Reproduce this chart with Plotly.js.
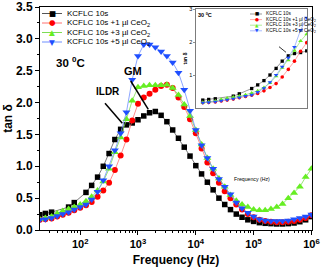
<!DOCTYPE html>
<html>
<head>
<meta charset="utf-8">
<script src="https://cdn.plot.ly/plotly-3.0.1.min.js"></script>
<style>html,body{margin:0;padding:0;background:#fff;}#chart{width:321px;height:273px;}</style>
</head>
<body>
<div id="chart"></div>
<script>
// ---- data ----
const frequencyHz = [20,25,32,40,50,63,79,100,126,158,200,251,316,398,501,631,794,1000,1259,1585,1995,2512,3162,3981,5012,6310,7943,10000,12589,15849,19953,25119,31623,39811,50119,63096,79433,100000,125893,158489,199526,251189,316228,398107,501187,630957,794328,1000000];
const seriesNames = ["KCFLC 10s","KCFLC 10s +1 µl CeO<sub>2</sub>","KCFLC 10s +3 µl CeO<sub>2</sub>","KCFLC 10s +5 µl CeO<sub>2</sub>"];
const tanDeltaPure = [0.24,0.26,0.28,null,null,0.36,0.43,null,0.59,0.70,0.83,1.00,1.20,1.42,1.58,1.65,1.68,1.73,1.79,1.84,1.86,1.80,1.70,1.57,1.44,1.30,1.16,1.01,0.88,0.75,0.63,0.50,0.40,0.32,0.25,0.20,0.16,0.135,0.115,0.105,0.10,0.095,0.095,0.10,0.11,0.13,0.16,0.21];
const tanDelta1ul = [0.16,0.17,0.18,0.21,0.24,0.27,0.31,0.35,0.39,0.44,0.52,0.62,0.74,0.94,1.17,1.42,1.72,1.98,2.08,2.14,2.20,2.26,2.28,2.23,2.08,1.93,1.74,1.52,1.28,1.06,0.89,0.74,0.61,0.50,0.40,0.32,0.25,0.20,0.16,0.14,0.13,0.12,0.12,0.13,0.14,0.16,0.19,0.23];
const tanDelta3ul = [0.17,0.19,0.21,0.26,0.30,0.33,0.36,0.40,0.45,0.52,0.62,0.76,0.96,1.22,1.45,1.74,2.03,2.24,2.26,2.27,2.27,2.27,2.28,2.23,2.12,1.97,1.79,1.57,1.34,1.13,0.96,0.81,0.68,0.55,0.46,0.40,0.36,0.32,0.31,0.31,0.33,0.36,0.41,0.50,0.58,0.68,0.83,0.96];
const tanDelta5ul = [0.16,0.17,0.19,0.22,0.25,0.28,0.32,0.36,0.40,0.48,0.60,0.78,1.00,1.25,1.52,1.85,2.36,2.73,2.91,2.91,2.87,2.80,2.73,2.63,2.47,2.20,1.87,1.57,1.33,1.13,0.96,0.80,0.68,0.56,0.43,0.34,0.27,0.21,0.17,0.15,0.14,0.14,0.14,0.15,0.17,0.19,0.21,0.245];
const xTickExponents = [2,3,4,5,6];

// ---- styles ----
const FONT = "Arial, 'Liberation Sans', sans-serif";
const styles = [
  {symbol:'square', mcolor:'#000000', lcolor:'#555555', size:5.5, glyph:'■'},
  {symbol:'circle', mcolor:'#ff0000', lcolor:'#ff7070', size:6, glyph:'●'},
  {symbol:'triangle-up', mcolor:'#66ee22', lcolor:'#7ddd55', size:7, glyph:'▲'},
  {symbol:'triangle-down', mcolor:'#1f4fff', lcolor:'#6f8fff', size:7, glyph:'▼'}
];
const allSeries = [tanDeltaPure, tanDelta1ul, tanDelta3ul, tanDelta5ul];

// pixel helpers for the main plot area
const L=40, R=312, T=7, B=230;
const px = x => (x-L)/(R-L);
const py = y => (B-y)/(B-T);

const traces = [];
allSeries.forEach((ys,i)=>{
  const s = styles[i];
  traces.push({x:frequencyHz, y:ys, name:seriesNames[i], type:'scatter', mode:'lines+markers',
    connectgaps:true, showlegend:false, xaxis:'x', yaxis:'y',
    line:{color:s.lcolor, width:0.8},
    marker:{symbol:s.symbol, color:s.mcolor, size:s.size, line:{width:0}}});
});
allSeries.forEach((ys,i)=>{
  const s = styles[i];
  traces.push({x:frequencyHz, y:ys, name:seriesNames[i], type:'scatter', mode:'lines+markers',
    connectgaps:true, showlegend:false, xaxis:'x2', yaxis:'y2',
    line:{color:s.lcolor, width:0.6},
    marker:{symbol:s.symbol, color:s.mcolor, size:s.size*0.6, line:{width:0}}});
});

const shapes = [];
const annotations = [];
function txt(x,y,text,size,bold,extra){
  return Object.assign({xref:'paper',yref:'paper',x:px(x),y:py(y),text:text,showarrow:false,
    font:{family:FONT,size:size,color:'#000',weight:bold?'bold':'normal'},xanchor:'center',yanchor:'middle'},extra||{});
}
function seg(x0,y0,x1,y1,w,c){
  shapes.push({type:'line',xref:'paper',yref:'paper',x0:px(x0),y0:py(y0),x1:px(x1),y1:py(y1),line:{color:c||'#000',width:w}});
}

// main legend (custom, compact rows)
const rowsMain = [13.5,23,32.5,42];
seriesNames.forEach((n,i)=>{
  const s = styles[i], yy = rowsMain[i];
  seg(42,yy,62,yy,1,s.lcolor);
  annotations.push(txt(52,yy,s.glyph,7,false,{font:{family:"DejaVu Sans",size:7.5,color:s.mcolor}}));
  annotations.push(txt(65,yy,n,8,false,{xanchor:'left'}));
});
annotations.push(txt(70,62,'30 <sup>0</sup>C',11.5,true));
annotations.push(txt(133,71,'GM',11,true));
annotations.push(txt(107.5,91,'ILDR',10,true));
seg(130.7,81,148.3,109.3,1.5);
seg(105,103.3,122.3,123.3,1.5);

// inset legend
const rowsInset = [14,19.6,25.2,30.8];
seriesNames.forEach((n,i)=>{
  const s = styles[i], yy = rowsInset[i];
  seg(250,yy,262,yy,0.6,s.lcolor);
  annotations.push(txt(256.5,yy,s.glyph,4.5,false,{font:{family:"DejaVu Sans",size:4.5,color:s.mcolor}}));
  annotations.push(txt(263.5,yy,n,4.8,false,{xanchor:'left'}));
});
annotations.push(txt(204.7,15.3,'30 <sup>0</sup>C',5.5,true));
annotations.push(txt(251.5,179,'Frequency (Hz)',5.2,false));
seg(279,46.7,286,52.3,0.8);

const layout = {
  width:321, height:273,
  margin:{l:40, r:9, t:7, b:43, pad:0},
  paper_bgcolor:'#fff', plot_bgcolor:'#fff',
  showlegend:false,
  font:{family:FONT, color:'#000'},
  xaxis:{type:'log', range:[1.305,6.01], domain:[0,1], anchor:'y',
    tickvals:xTickExponents.map(e=>Math.pow(10,e)),
    ticktext:xTickExponents.map(e=>'10<sup>'+e+'</sup>'),
    ticks:'outside', ticklen:4, tickwidth:1, tickcolor:'#000',
    minor:{ticks:'outside', ticklen:2, tickcolor:'#000', dtick:'D1', showgrid:false},
    showline:true, linecolor:'#000', linewidth:1, mirror:true, showgrid:false, zeroline:false,
    tickfont:{family:FONT, size:11, weight:'bold', color:'#000'},
    title:{text:'Frequency (Hz)', font:{family:FONT, size:12, weight:'bold', color:'#000'}, standoff:6}},
  yaxis:{range:[0,3.5], domain:[0,1], anchor:'x', dtick:0.5, tick0:0, tickformat:'.1f',
    ticks:'outside', ticklen:4, tickwidth:1, tickcolor:'#000',
    minor:{ticks:'outside', ticklen:2, tickcolor:'#000', dtick:0.25, showgrid:false},
    showline:true, linecolor:'#000', linewidth:1, mirror:true, showgrid:false, zeroline:false,
    tickfont:{family:FONT, size:12, weight:'bold', color:'#000'},
    title:{text:'tan δ', font:{family:FONT, size:12, weight:'bold', color:'#000'}, standoff:0}},
  xaxis2:{type:'log', range:[1.19,3.005], domain:[px(196),px(307)], anchor:'y2',
    showticklabels:false, ticks:'', showline:true, linecolor:'#444', linewidth:0.7, mirror:true,
    showgrid:false, zeroline:false},
  yaxis2:{range:[0,3], domain:[py(108),py(9)], anchor:'x2', tickvals:[1,2,3],
    ticks:'outside', ticklen:2, tickwidth:0.6, tickcolor:'#444',
    showline:true, linecolor:'#444', linewidth:0.7, mirror:true, showgrid:false, zeroline:false,
    tickfont:{family:FONT, size:5.5, color:'#000'},
    title:{text:'tan δ', font:{family:FONT, size:5, weight:'bold', color:'#000'}, standoff:1}},
  shapes:shapes,
  annotations:annotations
};
Plotly.newPlot('chart', traces, layout, {staticPlot:true, displayModeBar:false});
</script>
</body>
</html>
